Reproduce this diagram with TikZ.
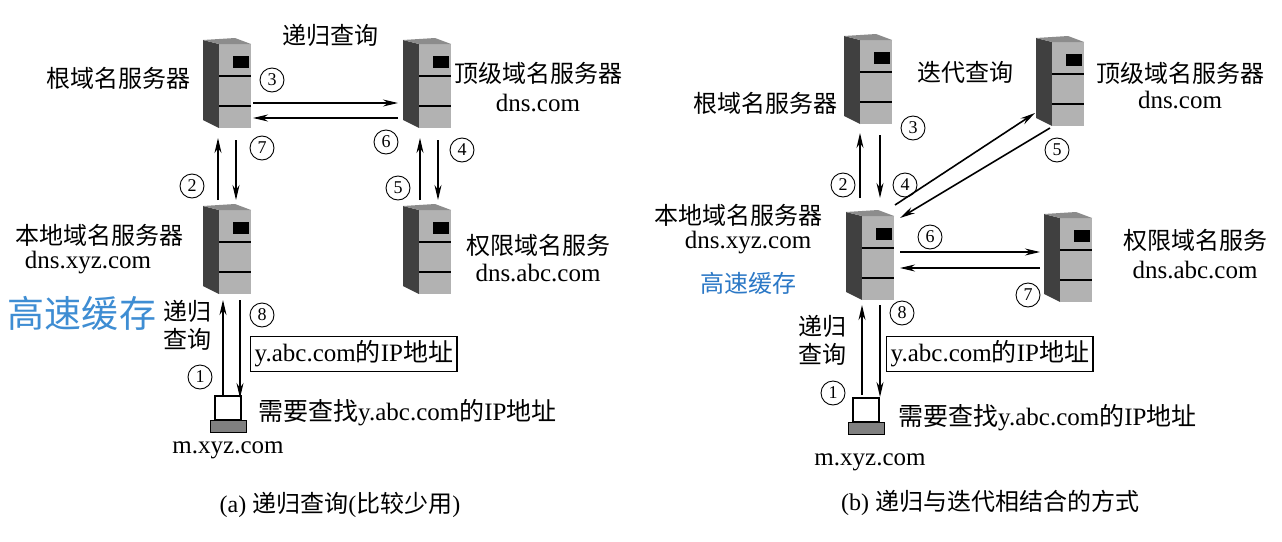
\documentclass[tikz,border=0pt]{standalone}
\usepackage{fontspec}
\setmainfont{Liberation Serif}
\newfontfamily\cjk{Noto Sans CJK SC}
\usetikzlibrary{arrows.meta}
\begin{document}
\begin{tikzpicture}[x=1pt,y=-1pt,
  txt/.style={font=\fontsize{24}{28}\selectfont\cjk, inner sep=0pt, align=center},
  lat/.style={font=\fontsize{25}{28}\selectfont, inner sep=0pt, align=center},
  num/.style={circle,draw,line width=0.9pt,inner sep=0pt,minimum size=24pt,font=\fontsize{18}{18}\selectfont},
  arr/.style={-{Stealth[length=15pt,width=7pt]},line width=1.6pt},
  bx/.style={draw,line width=1.4pt,inner sep=4pt,anchor=west,font=\fontsize{25}{28}\selectfont},
  srv/.pic={
    \fill[black!75] (-24,-44) -- (-8,-40) -- (-8,44) -- (-24,36) -- cycle;
    \fill[black!30] (-8,-40) rectangle (24,44);
    \fill[black!45] (-24,-44) -- (8,-46) -- (24,-40) -- (-8,-40) -- cycle;
    \fill[black] (6,-28) rectangle (22,-16);
    \draw[line width=1.5pt] (-8,-8) -- (24,-8) (-8,22) -- (24,22);
  },
  pc/.pic={
    \draw[line width=1.5pt] (-13,-22) rectangle (13,2);
    \fill[black!50] (-18,2) rectangle (18,14);
    \draw (-18,2) rectangle (18,14);
  }]
\useasboundingbox (0,0) rectangle (1282,541);
\fill[white] (0,0) rectangle (1282,541);
% ---------- (a)
\pic at (227,84) {srv};
\pic at (427,84) {srv};
\pic at (227,250) {srv};
\pic at (427,250) {srv};
\pic at (228,418) {pc};
\node[txt] at (330,35) {递归查询};
\node[txt] at (118,78) {根域名服务器};
\node[txt] at (538,73) {顶级域名服务器};
\node[lat] at (538,103) {dns.com};
\node[txt] at (100,235) {本地域名服务器};
\node[lat] at (88,263) {dns.xyz.com};
\node[font=\fontsize{37}{40}\selectfont\cjk,text=cyan!60!blue!80,inner sep=0pt] at (82,313) {高速缓存};
\node[txt] at (187,325) {递归\\查询};
\node[bx] at (250,354) {y.abc.com{\cjk 的}IP{\cjk 地址}};
\node[font=\fontsize{25}{28}\selectfont,inner sep=0pt,anchor=west] at (258,413) {{\cjk 需要查找}y.abc.com{\cjk 的}IP{\cjk 地址}};
\node[lat] at (228,450) {m.xyz.com};
\node[txt] at (538,245) {权限域名服务};
\node[lat] at (538,273) {dns.abc.com};
\node[font=\fontsize{24}{28}\selectfont,inner sep=0pt] at (340,505) {(a) {\cjk 递归查询}({\cjk 比较少用})};
\draw[arr] (253,103) -- (398,103);
\draw[arr] (398,118) -- (253,118);
\draw[arr] (218,200) -- (218,138);
\draw[arr] (236,140) -- (236,200);
\draw[arr] (420,200) -- (420,138);
\draw[arr] (438,140) -- (438,200);
\draw[arr] (223,395) -- (223,300);
\draw[arr] (240,300) -- (240,398);
\node[num] at (272,80) {3};
\node[num] at (262,148) {7};
\node[num] at (386,142) {6};
\node[num] at (462,150) {4};
\node[num] at (192,186) {2};
\node[num] at (398,188) {5};
\node[num] at (262,315) {8};
\node[num] at (200,377) {1};
% ---------- (b)
\pic at (868,80) {srv};
\pic at (1060,82) {srv};
\pic at (870,256) {srv};
\pic at (1068,258) {srv};
\pic at (866,420) {pc};
\node[txt] at (965,72) {迭代查询};
\node[txt] at (765,103) {根域名服务器};
\node[txt] at (1180,73) {顶级域名服务器};
\node[lat] at (1180,100) {dns.com};
\node[txt] at (738,215) {本地域名服务器};
\node[lat] at (748,243) {dns.xyz.com};
\node[font=\fontsize{24}{28}\selectfont\cjk,text=cyan!50!blue!90,inner sep=0pt] at (748,283) {高速缓存};
\node[txt] at (1195,240) {权限域名服务};
\node[lat] at (1195,270) {dns.abc.com};
\node[txt] at (822,340) {递归\\查询};
\node[bx] at (886,354) {y.abc.com{\cjk 的}IP{\cjk 地址}};
\node[font=\fontsize{25}{28}\selectfont,inner sep=0pt,anchor=west] at (898,418) {{\cjk 需要查找}y.abc.com{\cjk 的}IP{\cjk 地址}};
\node[lat] at (870,462) {m.xyz.com};
\node[font=\fontsize{24}{28}\selectfont,inner sep=0pt] at (990,503) {(b) {\cjk 递归与迭代相结合的方式}};
\draw[arr] (860,198) -- (860,133);
\draw[arr] (880,135) -- (880,198);
\draw[arr] (895,205) -- (1035,113);
\draw[arr] (1050,128) -- (900,218);
\draw[arr] (900,252) -- (1040,252);
\draw[arr] (1040,268) -- (900,268);
\draw[arr] (862,395) -- (862,305);
\draw[arr] (880,305) -- (880,397);
\node[num] at (913,128) {3};
\node[num] at (843,185) {2};
\node[num] at (905,185) {4};
\node[num] at (1057,150) {5};
\node[num] at (930,237) {6};
\node[num] at (1028,295) {7};
\node[num] at (902,313) {8};
\node[num] at (833,393) {1};
\end{tikzpicture}
\end{document}
